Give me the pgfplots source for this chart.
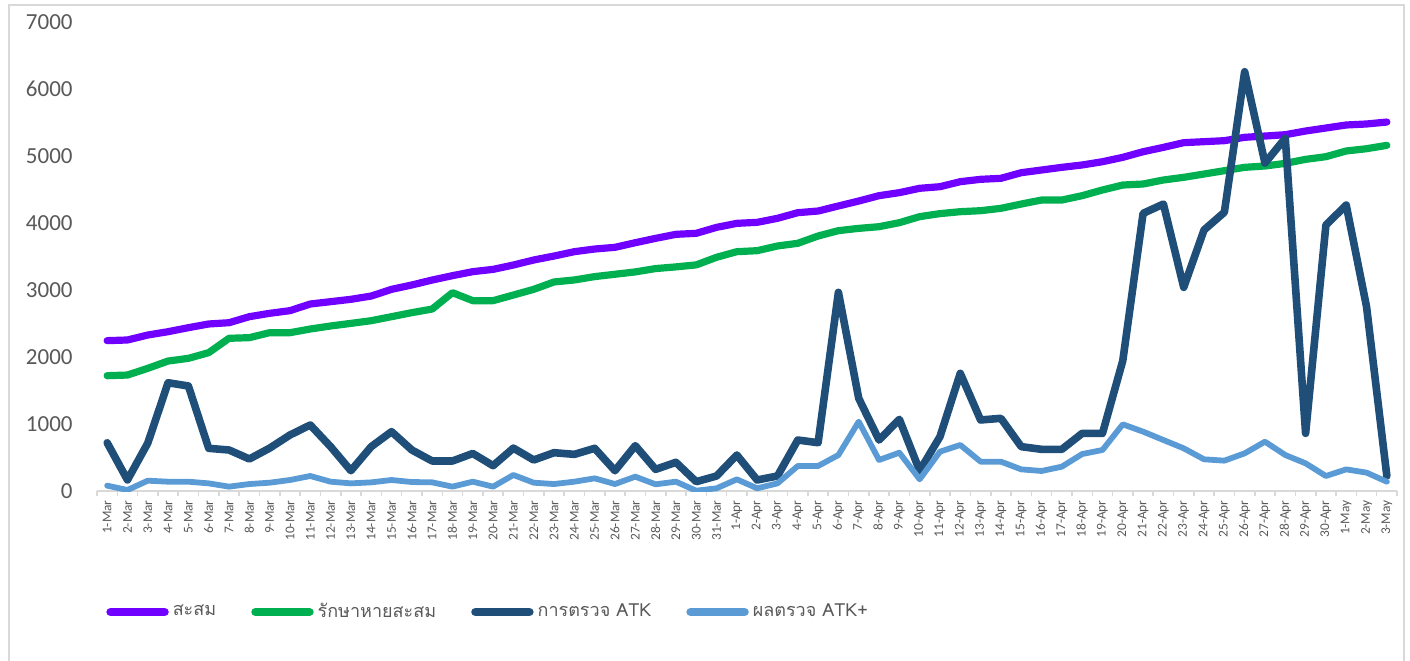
\documentclass[border=0pt]{standalone}
\usepackage{pgfplots}
\pgfplotsset{compat=1.18}
\usepackage{pgfplotstable}
\usepackage{fontspec}
\setmainfont{Carlito}
\newfontfamily\thaifont[Script=Thai]{Loma}

\definecolor{cPurple}{HTML}{7000FF}
\definecolor{cGreen}{HTML}{00B050}
\definecolor{cDark}{HTML}{1F4E79}
\definecolor{cLight}{HTML}{5B9BD5}
\definecolor{cText}{HTML}{595959}
\definecolor{cFrame}{HTML}{D9D9D9}

% x: day index (0 = 1-Mar), p: cumulative, g: recovered cumulative, d: ATK tests, l: ATK positive
\pgfplotstableread{
x p g d l
0 2244 1721 720 80
1 2254 1731 165 15
2 2328 1831 715 154
3 2378 1940 1616 139
4 2438 1980 1567 139
5 2493 2065 637 114
6 2512 2279 612 65
7 2602 2289 478 104
8 2652 2363 640 124
9 2692 2363 836 164
10 2791 2418 985 224
11 2826 2463 662 139
12 2861 2502 303 114
13 2910 2542 662 129
14 3010 2602 886 164
15 3075 2662 612 134
16 3149 2716 448 129
17 3214 2960 448 65
18 3274 2841 560 139
19 3308 2841 378 65
20 3373 2925 640 239
21 3448 3010 463 124
22 3507 3120 572 104
23 3572 3150 547 139
24 3612 3200 637 189
25 3637 3235 303 104
26 3706 3270 677 214
27 3771 3320 323 100
28 3831 3345 428 139
29 3846 3375 139 5
30 3935 3488 224 40
31 3995 3572 537 174
32 4010 3587 164 40
33 4070 3657 224 114
34 4154 3697 761 373
35 4179 3806 721 373
36 4254 3886 2965 537
37 4328 3920 1383 1035
38 4408 3945 761 463
39 4453 4005 1070 572
40 4518 4095 303 174
41 4542 4140 811 587
42 4617 4169 1756 687
43 4652 4184 1060 438
44 4667 4219 1085 438
45 4751 4283 662 323
46 4791 4343 622 299
47 4831 4343 622 363
48 4866 4408 860 552
49 4915 4493 860 612
50 4980 4567 1945 995
51 5064 4582 4144 886
52 5129 4642 4283 761
53 5199 4682 3040 637
54 5214 4731 3896 473
55 5229 4781 4160 453
56 5279 4831 6258 562
57 5298 4851 4895 736
58 5318 4890 5266 537
59 5373 4950 860 413
60 5418 4990 3970 224
61 5463 5075 4268 323
62 5478 5109 2751 274
63 5507 5159 224 139
}\datatable

\begin{document}
\begin{tikzpicture}
\useasboundingbox (0pt,0pt) rectangle (705pt,330pt);
\draw[cFrame, line width=1pt] (4.5pt,-5pt) -- (4.5pt,327.5pt) -- (702pt,327.5pt) -- (702pt,-5pt);
\begin{axis}[
    at={(48.5pt,84.5pt)}, anchor=south west,
    scale only axis,
    width=650pt, height=234.5pt,
    xmin=-0.5, xmax=63.5,
    ymin=0, ymax=7000,
    axis x line*=bottom, axis y line*=left,
    x axis line style={-, draw=cFrame, line width=1pt},
    y axis line style={draw=none},
    xtick={0,...,63},
    xticklabels={1-Mar,2-Mar,3-Mar,4-Mar,5-Mar,6-Mar,7-Mar,8-Mar,9-Mar,10-Mar,11-Mar,12-Mar,13-Mar,14-Mar,15-Mar,16-Mar,17-Mar,18-Mar,19-Mar,20-Mar,21-Mar,22-Mar,23-Mar,24-Mar,25-Mar,26-Mar,27-Mar,28-Mar,29-Mar,30-Mar,31-Mar,1-Apr,2-Apr,3-Apr,4-Apr,5-Apr,6-Apr,7-Apr,8-Apr,9-Apr,10-Apr,11-Apr,12-Apr,13-Apr,14-Apr,15-Apr,16-Apr,17-Apr,18-Apr,19-Apr,20-Apr,21-Apr,22-Apr,23-Apr,24-Apr,25-Apr,26-Apr,27-Apr,28-Apr,29-Apr,30-Apr,1-May,2-May,3-May},
    minor xtick={-0.5,0.5,...,63.5},
    ytick={0,1000,...,7000},
    major tick length=0pt,
    minor tick length=2.5pt,
    tick align=outside,
    minor tick style={draw=cFrame, line width=0.8pt},
    xticklabel style={rotate=90, anchor=east, inner sep=0pt, font=\fontsize{6.7}{7}\selectfont, text=cText},
    xticklabel shift=4.5pt,
    yticklabel style={anchor=east, inner sep=0pt, font=\fontsize{11.5}{12}\selectfont, text=cText},
    yticklabel shift=12pt,
    /pgf/number format/assume math mode=true,
    /pgf/number format/1000 sep={},
    legend columns=4,
    legend style={at={(axis description cs:0.0069,-0.258)}, anchor=west, draw=none, fill=none,
        inner sep=0pt, font=\thaifont\fontsize{9}{11}\selectfont, text=cText,
        /tikz/every even column/.append style={column sep=15.5pt}},
    legend cell align=left,
    legend image code/.code={\draw[#1, line cap=round, line width=4.2pt] (0pt,0pt) -- (27pt,0pt);},
    every axis plot/.append style={line cap=round, line join=round, mark=none},
]
\addplot[cPurple, line width=3.6pt] table[x=x, y=p] {\datatable};
\addlegendentry{สะสม}
\addplot[cGreen, line width=3.6pt] table[x=x, y=g] {\datatable};
\addlegendentry{รักษาหายสะสม}
\addplot[cDark, line width=3.8pt] table[x=x, y=d] {\datatable};
\addlegendentry{การตรวจ ATK}
\addplot[cLight, line width=2.9pt] table[x=x, y=l] {\datatable};
\addlegendentry{ผลตรวจ ATK+}
\end{axis}
\end{tikzpicture}
\end{document}
